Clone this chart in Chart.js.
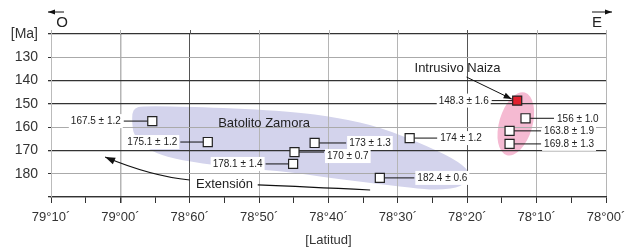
<!DOCTYPE html>
<html>
<head>
<meta charset="utf-8">
<script src="https://cdn.jsdelivr.net/npm/chart.js@4.4.0/dist/chart.umd.min.js"></script>
<style>
    html, body { margin: 0; padding: 0; background: #fff; }
    #wrap { width: 637px; height: 249px; }
</style>
</head>
<body>
<div id="wrap"><canvas id="chart" width="637" height="249"></canvas></div>
<script>
// x = minutes east of 79°10' (0..80), y = age in Ma
const xTickLabels = ['79°10´', '79°00´', '78°60´', '78°50´', '78°40´', '78°30´', '78°20´', '78°10´', '78°00´'];
const yTickLabels = ['[Ma]', '130', '140', '150', '160', '170', '180', ''];

const sampleX = [14.6, 22.6, 38.0, 35.1, 34.9, 51.7, 47.4, 67.2, 68.4, 66.1, 66.1];
const sampleY = [157.4, 166.4, 166.8, 170.7, 175.8, 164.7, 181.8, 148.6, 156.2, 161.6, 167.2];
const ageLabels = ['167.5 ± 1.2', '175.1 ± 1.2', '173 ± 1.3', '170 ± 0.7', '178.1 ± 1.4', '174 ± 1.2',
    '182.4 ± 0.6', '148.3 ± 1.6', '156 ± 1.0', '163.8 ± 1.9', '169.8 ± 1.3'];
const naizaIndex = 7;

// Batolito Zamora outline
const zamoraX = [11.7, 12.1, 13.1, 21.5, 34.4, 41.6, 47.4, 54.6, 58.9, 60.7, 59.2, 56.0, 53.2, 47.4, 40.2, 34.4, 27.2, 20.0, 15.7, 13.3, 11.9, 11.7];
const zamoraY = [153.9, 151.8, 150.9, 151.3, 153.1, 156.1, 159.9, 168.5, 175.0, 180.5, 185.7, 187.0, 186.5, 184.4, 181.8, 179.3, 177.5, 175.0, 172.0, 168.1, 163.1, 158.5];

// Intrusivo Naiza ellipse: centre and half-extent in data units
const naizaCentre = [67.0, 158.6];
const naizaHalf = [2.4, 14.0];

// label layout
const labelSide = ['left', 'left', 'right', 'right', 'left', 'right', 'right', 'left', 'right', 'right', 'right'];
const leaderLen = [24, 23, 27, 25, 23, 23, 30, 21, 24, 27, 27];
const labelDy = [0, 0, 0, 4, 0, 0, 0, 0, 0, 0, 0];

const FONT = "'Liberation Sans', Arial, sans-serif";
const darkX = [20, 60];
const darkY = [120, 140, 150, 170, 190];

function arrowHead(ctx, tx, ty, fx, fy, len, half) {
    const a = Math.atan2(ty - fy, tx - fx);
    ctx.beginPath();
    ctx.moveTo(tx, ty);
    ctx.lineTo(tx - len * Math.cos(a) + half * Math.sin(a), ty - len * Math.sin(a) - half * Math.cos(a));
    ctx.lineTo(tx - len * Math.cos(a) - half * Math.sin(a), ty - len * Math.sin(a) + half * Math.cos(a));
    ctx.closePath();
    ctx.fill();
}

const shapesPlugin = {
    id: 'shapes',
    beforeDraw(chart) {
        const ctx = chart.ctx;
        const sx = chart.scales.x, sy = chart.scales.y;
        const pts = zamoraX.map((u, i) => [sx.getPixelForValue(u), sy.getPixelForValue(zamoraY[i])]);
        const n = pts.length;
        const mid = (a, b) => [(a[0] + b[0]) / 2, (a[1] + b[1]) / 2];
        ctx.save();
        ctx.fillStyle = '#d3d3ec';
        ctx.beginPath();
        let m = mid(pts[n - 1], pts[0]);
        ctx.moveTo(m[0], m[1]);
        for (let i = 0; i < n; i++) {
            const nx = mid(pts[i], pts[(i + 1) % n]);
            ctx.quadraticCurveTo(pts[i][0], pts[i][1], nx[0], nx[1]);
        }
        ctx.closePath();
        ctx.fill();

        const cx = sx.getPixelForValue(naizaCentre[0]);
        const cy = sy.getPixelForValue(naizaCentre[1]);
        const rx = Math.abs(sx.getPixelForValue(naizaCentre[0] + naizaHalf[0]) - cx);
        const ry = Math.abs(sy.getPixelForValue(naizaCentre[1] + naizaHalf[1]) - cy);
        ctx.fillStyle = '#f5bad2';
        ctx.beginPath();
        ctx.ellipse(cx, cy, rx, ry, 16 * Math.PI / 180, 0, Math.PI * 2);
        ctx.fill();
        ctx.restore();
    }
};

const notesPlugin = {
    id: 'notes',
    beforeDatasetsDraw(chart) {
        const ctx = chart.ctx;
        const sx = chart.scales.x, sy = chart.scales.y;
        const X = u => sx.getPixelForValue(u);
        const Y = v => sy.getPixelForValue(v);
        const area = chart.chartArea;
        const half = 4.5;
        ctx.save();

        // vertical grid lines poke a little above the top line
        xTickLabels.forEach((_, k) => {
            const gx = Math.round(X(k * 10)) + 0.5;
            ctx.strokeStyle = darkX.includes(k * 10) ? '#555' : '#b5b5b5';
            ctx.lineWidth = 1;
            ctx.beginPath();
            ctx.moveTo(gx, area.top - 4);
            ctx.lineTo(gx, area.top);
            ctx.stroke();
        });

        ctx.strokeStyle = '#111';
        ctx.fillStyle = '#111';
        ctx.lineWidth = 1;

        // sample labels with leader lines
        ctx.font = '10px ' + FONT;
        ctx.textBaseline = 'middle';
        sampleX.forEach((u, i) => {
            const px = X(u), py = Y(sampleY[i]);
            const dir = labelSide[i] === 'left' ? -1 : 1;
            const x0 = px + dir * half;
            const x1 = x0 + dir * leaderLen[i];
            ctx.beginPath();
            ctx.moveTo(x0, py);
            ctx.lineTo(x1, py);
            ctx.strokeStyle = '#111';
            ctx.stroke();
            const w = ctx.measureText(ageLabels[i]).width;
            const tx = dir < 0 ? x1 - 3 - w : x1 + 3;
            const ty = py + labelDy[i];
            ctx.fillStyle = '#fff';
            ctx.fillRect(tx - 2, ty - 7, w + 4, 14);
            ctx.fillStyle = '#222';
            ctx.textAlign = 'left';
            ctx.fillText(ageLabels[i], tx, ty + 0.5);
        });

        // region names
        ctx.font = '13px ' + FONT;
        ctx.fillStyle = '#222';
        ctx.textAlign = 'left';
        ctx.fillText('Batolito Zamora', X(24.1), Y(158.6));
        ctx.fillText('Intrusivo Naiza', X(52.4), Y(134.6));
        ctx.fillText('Extensión', X(20.9), Y(184.8));

        // Intrusivo Naiza arrow
        ctx.fillStyle = '#111';
        ctx.beginPath();
        ctx.moveTo(X(59.9), Y(138.5));
        ctx.lineTo(X(66.4), Y(147.9));
        ctx.stroke();
        arrowHead(ctx, X(66.4), Y(147.9), X(59.9), Y(138.5), 8, 3);

        // Extensión arrows
        ctx.lineWidth = 1.2;
        ctx.beginPath();
        ctx.moveTo(X(20.0), Y(182.7));
        ctx.quadraticCurveTo(X(14.4), Y(181.0), X(7.8), Y(172.8));
        ctx.stroke();
        arrowHead(ctx, X(7.8), Y(172.8), X(10.6), Y(176.5), 10, 3.5);
        ctx.beginPath();
        ctx.moveTo(X(29.8), Y(184.8));
        ctx.quadraticCurveTo(X(36.5), Y(185.6), X(46.0), Y(187.0));
        ctx.stroke();

        // O / E direction marks
        ctx.lineWidth = 1;
        ctx.font = '15px ' + FONT;
        ctx.textAlign = 'center';
        ctx.fillStyle = '#222';
        ctx.fillText('O', area.left + 11, area.top - 11);
        ctx.fillText('E', area.right - 9, area.top - 11);
        ctx.beginPath();
        ctx.moveTo(area.left - 3, area.top - 22);
        ctx.lineTo(area.left + 13, area.top - 22);
        ctx.moveTo(area.right - 14, area.top - 22);
        ctx.lineTo(area.right + 6, area.top - 22);
        ctx.stroke();
        ctx.fillStyle = '#111';
        arrowHead(ctx, area.left - 3, area.top - 22, area.left + 5, area.top - 22, 7, 2.5);
        arrowHead(ctx, area.right + 6, area.top - 22, area.right - 2, area.top - 22, 7, 2.5);
        ctx.restore();
    }
};

new Chart(document.getElementById('chart'), {
    type: 'scatter',
    data: {
        datasets: [{
            data: sampleX.map((x, i) => ({ x: x, y: sampleY[i] })),
            pointStyle: 'rect',
            pointRadius: 6.4,
            pointHoverRadius: 6.4,
            backgroundColor: sampleX.map((_, i) => i === naizaIndex ? '#e3202f' : '#fff'),
            borderColor: '#222',
            borderWidth: 1.2,
            clip: false
        }]
    },
    options: {
        responsive: false,
        animation: false,
        events: [],
        layout: { padding: { top: 34, right: 31, bottom: 0, left: 0 } },
        plugins: {
            legend: { display: false },
            tooltip: { enabled: false }
        },
        scales: {
            x: {
                type: 'linear',
                min: 0,
                max: 80,
                afterFit: scale => { scale.height = 52; },
                ticks: {
                    stepSize: 5,
                    autoSkip: false,
                    maxRotation: 0,
                    padding: 7,
                    color: '#333',
                    font: { family: FONT, size: 13 },
                    callback: v => (v % 10 === 0 ? xTickLabels[v / 10] : '')
                },
                grid: {
                    color: c => (c.tick.value % 10 !== 0 ? 'rgba(0,0,0,0)' : (darkX.includes(c.tick.value) ? '#555' : '#b5b5b5')),
                    lineWidth: c => (c.tick.value === 10 ? 1.5 : 1),
                    tickColor: '#333',
                    tickLength: 6
                },
                border: { color: '#333', width: 1.3 },
                title: {
                    display: true,
                    text: '[Latitud]',
                    color: '#333',
                    font: { family: FONT, size: 13 },
                    padding: { top: 0, bottom: 1 }
                }
            },
            y: {
                type: 'linear',
                reverse: true,
                min: 120,
                max: 190,
                afterFit: scale => { scale.width = 51; },
                ticks: {
                    stepSize: 10,
                    padding: 10,
                    color: '#333',
                    font: { family: FONT, size: 14 },
                    callback: v => yTickLabels[Math.round((v - 120) / 10)]
                },
                grid: {
                    color: c => (darkY.includes(c.tick.value) ? '#333' : '#aaa'),
                    lineWidth: c => (darkY.includes(c.tick.value) ? 1.3 : 1),
                    tickColor: '#333',
                    tickLength: 3
                },
                border: { color: '#bbb', width: 1 }
            }
        }
    },
    plugins: [shapesPlugin, notesPlugin]
});
</script>
</body>
</html>
